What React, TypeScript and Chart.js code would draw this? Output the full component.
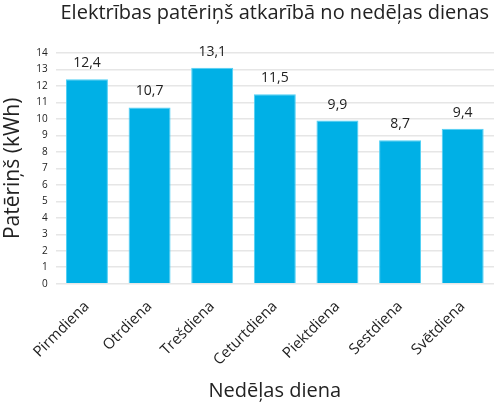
import { useEffect, useRef } from 'react';
import Chart from 'chart.js/auto';

const days = ['Pirmdiena', 'Otrdiena', 'Trešdiena', 'Ceturtdiena', 'Piektdiena', 'Sestdiena', 'Svētdiena'];
const usage = [12.4, 10.7, 13.1, 11.5, 9.9, 8.7, 9.4];
const yTicks = [0, 1, 2, 3, 4, 5, 6, 7, 8, 9, 10, 11, 12, 13, 14];

const FONT = '"Open Sans", sans-serif';

const valueLabels = {
  id: 'valueLabels',
  afterDatasetsDraw(chart: any) {
    const { ctx } = chart;
    const meta = chart.getDatasetMeta(0);
    ctx.save();
    ctx.font = `14px ${FONT}`;
    ctx.fillStyle = '#222';
    ctx.textAlign = 'center';
    ctx.textBaseline = 'middle';
    meta.data.forEach((bar: any, i: number) => {
      ctx.fillText(usage[i].toFixed(1).replace('.', ','), bar.x, bar.y - 16);
    });
    ctx.restore();
  },
};

export default function App() {
  const chartRef = useRef<HTMLCanvasElement>(null);

  useEffect(() => {
    document.body.style.margin = '0';
    if (!chartRef.current) return;
    const chart = new Chart(chartRef.current, {
      type: 'bar',
      data: {
        labels: days,
        datasets: [
          {
            data: usage,
            backgroundColor: '#00b0e6',
            borderColor: '#4fd0f5',
            borderWidth: 1,
            barPercentage: 0.67,
            categoryPercentage: 1,
          },
        ],
      },
      options: {
        animation: false,
        responsive: false,
        layout: { padding: { left: 0, right: 6, top: 0, bottom: 0 } },
        plugins: {
          legend: { display: false },
          tooltip: { enabled: false },
          title: {
            display: true,
            fullSize: false,
            text: 'Elektrības patēriņš atkarībā no nedēļas dienas',
            color: '#222',
            font: { family: FONT, size: 20, weight: 'normal' },
            padding: { top: 1, bottom: 28 },
          },
        },
        scales: {
          x: {
            grid: { display: false },
            border: { display: false },
            ticks: {
              color: '#222',
              font: { family: FONT, size: 15 },
              maxRotation: 45,
              minRotation: 45,
              padding: 6,
            },
            title: {
              display: true,
              text: 'Nedēļas diena',
              color: '#222',
              font: { family: FONT, size: 20 },
              padding: { top: 4, bottom: 0 },
            },
          },
          y: {
            min: 0,
            max: 14,
            afterBuildTicks: (axis: any) => {
              axis.ticks = yTicks.map((v) => ({ value: v }));
            },
            grid: { color: '#e6e6e6', lineWidth: 1.5, drawTicks: false },
            border: { display: false },
            ticks: {
              color: '#222',
              font: { family: FONT, size: 10 },
              padding: 8,
            },
            title: {
              display: true,
              text: 'Patēriņš (kWh)',
              color: '#222',
              font: { family: FONT, size: 21 },
              padding: { top: 0, bottom: 3 },
            },
          },
        },
      },
      plugins: [valueLabels],
    });
    return () => chart.destroy();
  }, []);

  return (
    <div style={{ width: 500, height: 403, background: '#fff' }}>
      <canvas ref={chartRef} width={500} height={403} />
    </div>
  );
}
